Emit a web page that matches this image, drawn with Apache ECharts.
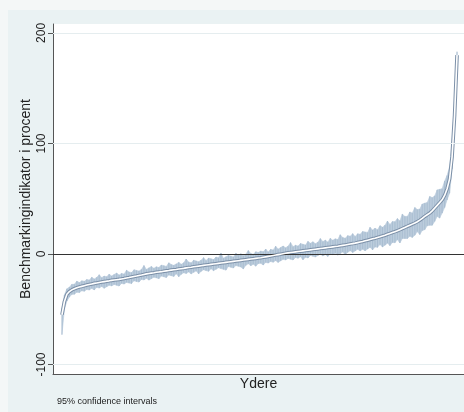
<!DOCTYPE html>
<html>
<head>
<meta charset="utf-8">
<script src="https://cdn.jsdelivr.net/npm/echarts@6/dist/echarts.min.js"></script>
<style>
  html, body { margin: 0; padding: 0; background: #f4f7f7; }
  #chart { width: 464px; height: 412px; }
</style>
</head>
<body>
<div id="chart"></div>
<script>
// Sorted benchmark indicator estimates (percent), one per firm (rank order)
const estimates = [
  -55, -43, -36.5, -34, -32.5, -31.4, -30.6, -29.9, -29.3, -28.7,
  -28.1, -27.6, -27.1, -26.6, -26.2, -25.8, -25.4, -25.0, -24.6, -24.3,
  -23.9, -23.6, -23.3, -23.0, -22.6, -22.2, -21.7, -21.3, -20.8, -20.3,
  -19.9, -19.4, -19.0, -18.5, -18.0, -17.6, -17.3, -17.0, -16.6, -16.3,
  -16.0, -15.6, -15.3, -15.0, -14.6, -14.3, -14.0, -13.6, -13.3, -13.0,
  -12.6, -12.3, -12.0, -11.6, -11.3, -11.0, -10.6, -10.3, -10.0, -9.7,
  -9.4, -9.1, -8.8, -8.5, -8.2, -7.9, -7.6, -7.3, -7.0, -6.7,
  -6.4, -6.1, -5.8, -5.5, -5.2, -4.9, -4.6, -4.3, -4.0, -3.7,
  -3.4, -3.0, -2.6, -2.2, -1.8, -1.4, -1.0, -0.6, -0.2, 0.2,
  0.6, 1.0, 1.3, 1.6, 1.9, 2.2, 2.5, 2.8, 3.1, 3.4,
  3.7, 4.0, 4.3, 4.6, 4.9, 5.2, 5.5, 5.8, 6.1, 6.4,
  6.7, 7.0, 7.4, 7.8, 8.2, 8.6, 9.0, 9.4, 9.8, 10.3,
  10.8, 11.3, 11.9, 12.5, 13.1, 13.7, 14.3, 15.0, 15.6, 16.3,
  17.0, 17.8, 18.6, 19.4, 20.2, 21.0, 22.0, 23.0, 24.0, 25.0,
  26.0, 27.0, 28.0, 29.2, 30.6, 32.2, 34.0, 35.5, 37.0, 39.0,
  41.5, 44.0, 46.5, 49.0, 53.0, 59.0, 68.0, 88.0, 125.0, 180.0
];
// Upper and lower distances of the 95% confidence interval from each estimate
const ciUp = [
  6, 6, 5, 4, 5, 4, 6, 4, 5, 4, 5, 4, 6, 4, 5, 7, 4, 5, 4, 6,
  4, 5, 6, 4, 5, 4, 7, 5, 4, 6, 5, 4, 5, 8, 4, 5, 6, 4, 5, 4,
  6, 5, 4, 7, 5, 4, 5, 6, 4, 5, 8, 5, 4, 6, 5, 4, 5, 7, 4, 6,
  5, 4, 6, 5, 9, 4, 5, 6, 5, 4, 7, 5, 6, 4, 5, 8, 5, 4, 6, 5,
  6, 5, 7, 4, 6, 5, 8, 5, 6, 7, 5, 6, 9, 5, 6, 5, 7, 6, 5, 8,
  6, 7, 5, 6, 9, 6, 7, 5, 8, 6, 7, 6, 10, 7, 6, 8, 7, 9, 6, 8,
  7, 9, 8, 7, 11, 8, 9, 7, 10, 8, 9, 12, 8, 10, 9, 11, 8, 13, 10, 9,
  12, 10, 14, 11, 10, 13, 12, 11, 15, 12, 11, 14, 12, 10, 13, 12, 11, 12, 10, 3
];
const ciDown = [
  18, 7, 6, 5, 4, 5, 4, 5, 4, 5, 4, 5, 4, 6, 4, 5, 4, 6, 5, 4,
  5, 4, 5, 6, 4, 5, 4, 5, 6, 4, 5, 6, 4, 5, 4, 6, 5, 4, 5, 6,
  4, 5, 6, 4, 5, 6, 4, 7, 5, 4, 5, 4, 6, 5, 4, 7, 5, 4, 5, 6,
  4, 6, 5, 4, 5, 6, 7, 4, 5, 6, 4, 5, 6, 8, 5, 4, 6, 5, 7, 5,
  5, 7, 5, 6, 5, 6, 5, 7, 6, 5, 6, 5, 6, 7, 5, 6, 5, 8, 6, 7,
  5, 6, 7, 6, 5, 7, 6, 8, 6, 7, 6, 8, 7, 6, 9, 7, 6, 8, 7, 6,
  8, 7, 9, 8, 7, 10, 8, 9, 7, 10, 9, 8, 11, 9, 10, 8, 12, 9, 10, 11,
  10, 12, 11, 9, 13, 11, 12, 10, 11, 13, 12, 10, 14, 12, 11, 10, 13, 11, 10, 6
];
const yTicks = [-100, 0, 100, 200];
const yTitle = 'Benchmarkingindikator i procent';
const xTitle = 'Ydere';
const note = '95% confidence intervals';

const n = estimates.length;
const lo = estimates.map((v, i) => v - ciDown[i]);
const hi = estimates.map((v, i) => v + ciUp[i]);
// one band segment per neighbouring pair of firms
const bandData = estimates.slice(0, -1).map((v, i) => [i, lo[i], hi[i], i + 1, lo[i + 1], hi[i + 1]]);
const ciData = estimates.map((v, i) => [i, lo[i], hi[i]]);
const estData = estimates.map((v, i) => [i, v]);

const font = '"Liberation Sans", Arial, sans-serif';

const chart = echarts.init(document.getElementById('chart'), null, { renderer: 'canvas' });
chart.setOption({
  backgroundColor: 'transparent',
  animation: false,
  graphic: [
    { type: 'rect', z: -100, silent: true, shape: { x: 8, y: 10, width: 456, height: 402 }, style: { fill: '#eaf2f3' } },
    { type: 'text', z: 100, left: 57, top: 397, style: { text: note, font: '9px ' + font, fill: '#222' } }
  ],
  grid: { left: 53, top: 24, right: 0, bottom: 38, show: true, backgroundColor: '#ffffff', borderWidth: 0 },
  xAxis: {
    type: 'value', min: -3.6, max: n - 1 + 2.8,
    axisLine: { show: true, onZero: false, lineStyle: { color: '#555', width: 1 } },
    axisTick: { show: false }, axisLabel: { show: false }, splitLine: { show: false },
    name: xTitle, nameLocation: 'middle', nameGap: 3,
    nameTextStyle: { fontFamily: font, fontSize: 14, color: '#222' }
  },
  yAxis: {
    type: 'value', min: -108.6, max: 208.1,
    axisLine: { show: true, onZero: false, lineStyle: { color: '#555', width: 1 } },
    axisTick: { show: true, customValues: yTicks, length: 5, lineStyle: { color: '#555' } },
    axisLabel: { customValues: yTicks, rotate: 90, margin: 5, fontFamily: font, fontSize: 12, color: '#222' },
    splitLine: { show: false },
    name: yTitle, nameLocation: 'middle', nameGap: 20, nameRotate: 90, nameMoveOverlap: false,
    nameTextStyle: { fontFamily: font, fontSize: 14, color: '#222' }
  },
  series: [
    {
      type: 'line', data: [], silent: true,
      markLine: {
        silent: true, symbol: 'none', label: { show: false },
        lineStyle: { color: '#e5edef', width: 1, type: 'solid' },
        data: yTicks.filter(t => t !== 0).map(t => ({ yAxis: t }))
      }
    },
    {
      type: 'custom', silent: true, clip: true, z: 2,
      data: bandData,
      encode: { x: [0, 3], y: [1, 2, 4, 5] },
      renderItem: function (params, api) {
        const a1 = api.coord([api.value(0), api.value(1)]);
        const a2 = api.coord([api.value(0), api.value(2)]);
        const b1 = api.coord([api.value(3), api.value(4)]);
        const b2 = api.coord([api.value(3), api.value(5)]);
        return {
          type: 'polygon',
          shape: { points: [a1, b1, b2, a2] },
          style: { fill: '#bccddd', stroke: '#bccddd', lineWidth: 0.6 }
        };
      }
    },
    {
      type: 'custom', silent: true, clip: true, z: 3,
      data: ciData,
      encode: { x: 0, y: [1, 2] },
      renderItem: function (params, api) {
        const x = api.value(0);
        const p1 = api.coord([x, api.value(1)]);
        const p2 = api.coord([x, api.value(2)]);
        return {
          type: 'line',
          shape: { x1: p1[0], y1: p1[1], x2: p2[0], y2: p2[1] },
          style: { stroke: '#8fa8c2', lineWidth: 1, opacity: 0.45 }
        };
      }
    },
    {
      type: 'line', data: estData, symbol: 'none', silent: true, z: 4,
      lineStyle: { color: '#7c90a8', width: 3.6 }
    },
    {
      type: 'line', data: estData, symbol: 'none', silent: true, z: 5,
      lineStyle: { color: '#ffffff', width: 1.6 }
    },
    {
      type: 'line', data: [], silent: true, z: 6,
      markLine: {
        silent: true, symbol: 'none', label: { show: false },
        lineStyle: { color: '#333', width: 1, type: 'solid' },
        data: [{ yAxis: 0 }]
      }
    }
  ]
});
</script>
</body>
</html>
